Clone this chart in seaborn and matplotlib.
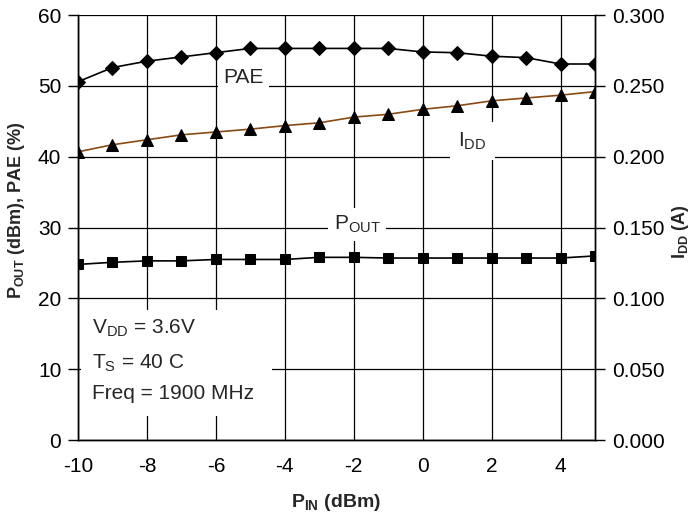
import pandas as pd
import seaborn as sns
import matplotlib.pyplot as plt
from matplotlib.patches import Rectangle

# data
pin = [-10, -9, -8, -7, -6, -5, -4, -3, -2, -1, 0, 1, 2, 3, 4, 5]
pae = [50.6, 52.6, 53.5, 54.1, 54.7, 55.3, 55.3, 55.3, 55.3, 55.3, 54.8, 54.7, 54.2, 54.0, 53.1, 53.1]
idd = [0.2035, 0.2085, 0.212, 0.2155, 0.2175, 0.2195, 0.222, 0.224, 0.228, 0.230,
       0.2335, 0.236, 0.2395, 0.2415, 0.2435, 0.246]
pout = [24.8, 25.1, 25.3, 25.3, 25.5, 25.5, 25.5, 25.8, 25.8, 25.7, 25.7, 25.7, 25.7, 25.7, 25.7, 26.0]
x_ticks = [-10, -8, -6, -4, -2, 0, 2, 4]
left_ticks = [0, 10, 20, 30, 40, 50, 60]
right_ticks = [0.0, 0.05, 0.10, 0.15, 0.20, 0.25, 0.30]

df = pd.DataFrame({'pin': pin, 'pae': pae, 'idd': idd, 'pout': pout})

sns.set_style('white')
plt.rcParams['font.family'] = ['Liberation Sans', 'DejaVu Sans']
plt.rcParams['mathtext.fontset'] = 'custom'
plt.rcParams['mathtext.rm'] = 'Liberation Sans'
plt.rcParams['mathtext.bf'] = 'Liberation Sans:bold'
plt.rcParams['mathtext.it'] = 'Liberation Sans'
plt.rcParams['axes.unicode_minus'] = False

fig = plt.figure(figsize=(6.93, 5.22), dpi=100)
ax = fig.add_axes([0.1126, 0.157, 0.746, 0.814])
ax2 = ax.twinx()

fs = 15

sns.lineplot(data=df, x='pin', y='pae', ax=ax, color='black', lw=1.2,
             marker='D', markersize=7, mfc='black', mec='black', zorder=4)
sns.lineplot(data=df, x='pin', y='pout', ax=ax, color='black', lw=1.2,
             marker='s', markersize=7, mfc='black', mec='black', zorder=4)
sns.lineplot(data=df, x='pin', y='idd', ax=ax2, color='#8B4A12', lw=1.2,
             marker='^', markersize=9, mfc='black', mec='black', zorder=4)

ax.set_xlim(-10, 5)
ax.set_ylim(0, 60)
ax2.set_ylim(0, 0.3)
ax.set_xticks(x_ticks)
ax.set_yticks(left_ticks)
ax2.set_yticks(right_ticks)
ax2.set_yticklabels([f'{v:.3f}' for v in right_ticks])

ax.grid(True, color='black', lw=0.9)
ax.set_axisbelow(True)
for a in (ax, ax2):
    for s in a.spines.values():
        s.set_color('black')
        s.set_linewidth(1.0)
    a.tick_params(direction='out', length=7, width=1, colors='black', labelsize=fs, pad=5)
ax.spines['top'].set_visible(False)
ax2.spines['top'].set_visible(False)

ax.set_xlabel(r'$\mathbf{P_{IN}}$ (dBm)', fontsize=14, fontweight='bold', labelpad=12)
ax.set_ylabel(r'$\mathbf{P_{OUT}}$ (dBm), PAE (%)', fontsize=13, fontweight='bold')
ax.yaxis.set_label_coords(-0.099, 0.54)
ax2.set_ylabel(r'$\mathbf{I_{DD}}$ (A)', fontsize=13, fontweight='bold')
ax2.yaxis.set_label_coords(1.145, 0.49)

box = dict(facecolor='white', edgecolor='none', pad=4)
ax.text(-5.2, 51.2, 'PAE', fontsize=fs, ha='center', va='center', bbox=box, zorder=3)
ax.text(1.45, 42.2, r'I$_{\mathrm{DD}}$', fontsize=fs, ha='center', va='center',
        bbox=dict(facecolor='white', edgecolor='none', pad=6), zorder=3)
ax.text(-1.9, 30.4, r'P$_{\mathrm{OUT}}$', fontsize=fs, ha='center', va='center', bbox=box, zorder=3)

ax.add_patch(Rectangle((0.005, 0.057), 0.37, 0.25, transform=ax.transAxes,
                       facecolor='white', edgecolor='none', zorder=2))
ax.text(-9.6, 15.8, r'V$_{\mathrm{DD}}$ = 3.6V', fontsize=fs, va='center', zorder=3)
ax.text(-9.6, 10.9, r'T$_{\mathrm{S}}$ = 40 C', fontsize=fs, va='center', zorder=3)
ax.text(-9.6, 6.6, 'Freq = 1900 MHz', fontsize=fs, va='center', zorder=3)

fig.savefig('out.png', dpi=100)
